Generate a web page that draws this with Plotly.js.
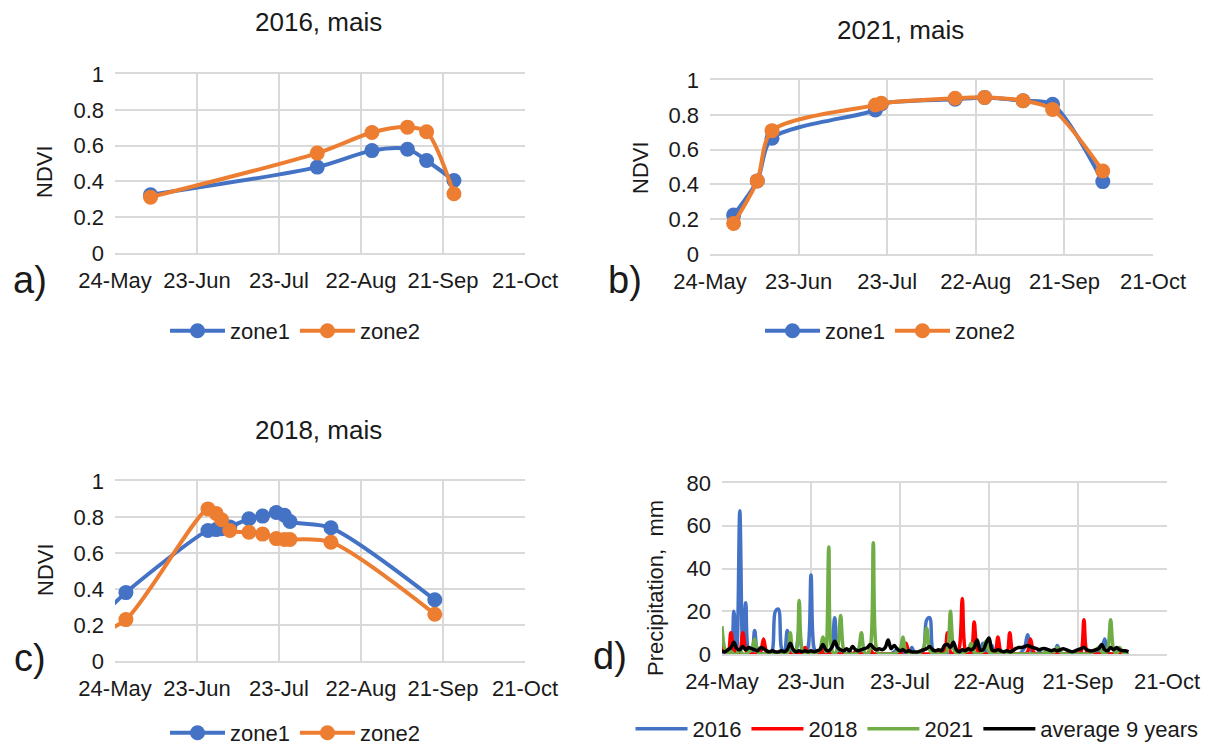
<!DOCTYPE html>
<html><head><meta charset="utf-8">
<script src="https://cdn.plot.ly/plotly-3.0.1.min.js"></script>
<style>html,body{margin:0;padding:0;background:#fff}#chart{width:1208px;height:746px}</style>
</head><body><div id="chart"></div>
<script>
// ---------- data ----------
const tickLabels = ["24-May","23-Jun","23-Jul","22-Aug","21-Sep","21-Oct"];
const tickMonthDays = ["05-24","06-23","07-23","08-22","09-21","10-21"];

// a) 2016
const dates2016 = ["2016-06-06","2016-08-06","2016-08-26","2016-09-08","2016-09-15","2016-09-25"];
const zone1_2016 = [0.325,0.48,0.572,0.58,0.517,0.405];
const zone2_2016 = [0.312,0.558,0.673,0.703,0.677,0.331];

// b) 2021
const dates2021 = ["2021-06-01","2021-06-09","2021-06-14","2021-07-19","2021-07-21","2021-08-15","2021-08-25","2021-09-07","2021-09-17","2021-10-04"];
const zone1_2021 = [0.224,0.42,0.665,0.828,0.862,0.889,0.90,0.881,0.86,0.416];
const zone2_2021 = [0.176,0.42,0.709,0.856,0.866,0.895,0.90,0.881,0.831,0.477];

// c) 2018
const dates2018 = ["2018-05-16","2018-05-28","2018-06-27","2018-06-30","2018-07-02","2018-07-05","2018-07-12","2018-07-17","2018-07-22","2018-07-25","2018-07-27","2018-08-11","2018-09-18"];
const zone1_2018 = [0.20,0.38,0.725,0.73,0.735,0.745,0.79,0.805,0.825,0.81,0.775,0.74,0.34];
const zone2_2018 = [0.14,0.23,0.845,0.82,0.785,0.725,0.715,0.705,0.68,0.675,0.675,0.66,0.26];

// d) daily precipitation, mm, from 24-May (138 days)
const precipStart = "2021-05-24";
const precip2016 = [
 0,0,0,1,20,3,67,3,24,1,
 0,11,1,0,0,0,0,2,20,21,
 3,0,11,1,0,2,11,2,0,3,
 37,3,0,0,0,1,0,3,17,2,
 0,0,0,1,0,0,0,0,0,0,
 0,0,0,0,0,0,0,0,1,2,
 1,0,0,0,3,0,0,0,2,16,
 17,2,0,0,0,1,0,0,0,0,
 0,0,0,1,0,0,0,2,5,1,
 0,4,0,0,0,0,1,0,0,0,
 0,1,3,9,2,0,0,1,0,0,
 0,0,0,4,1,0,0,0,0,0,
 0,0,0,0,0,0,0,1,2,7,
 1,0,0,1,0,0,0,0];
const precip2018 = [
 5,1,0,10,2,0,1,10,2,0,
 0,0,0,1,7,1,0,0,0,0,
 0,0,2,0,0,0,0,1,3,0,
 0,0,0,0,2,0,0,0,0,0,
 0,0,0,0,0,1,0,0,0,0,
 2,0,0,0,0,0,0,0,0,0,
 0,2,5,1,0,0,0,0,0,0,
 0,0,0,0,2,1,10,1,0,0,
 3,26,2,0,1,15,2,0,0,0,
 0,1,0,8,1,0,0,10,1,0,
 0,0,0,1,7,1,0,0,0,0,
 0,0,0,0,0,0,0,0,0,0,
 0,1,16,1,0,0,0,0,0,0,
 0,0,0,0,0,1,0,0];
const precip2021 = [
 13,2,0,1,0,0,2,0,0,1,
 2,7,1,0,0,0,0,0,0,0,
 0,1,0,10,1,2,25,2,0,0,
 0,0,1,2,8,1,50,2,0,3,
 18,2,0,0,0,0,2,10,1,0,
 3,52,3,0,0,0,0,0,0,1,
 2,8,1,0,0,0,0,1,3,12,
 2,0,0,0,0,0,2,20,3,0,
 0,0,1,2,5,1,0,0,2,6,
 1,0,0,0,0,0,0,0,0,0,
 0,0,0,0,0,0,0,0,0,1,
 0,1,1,3,1,0,0,0,0,0,
 0,0,0,0,0,1,2,3,1,0,
 2,16,2,0,3,1,0,0];
const precipAvg9 = [
 1.5,1,2,3,5.5,2.5,2,3.5,2,3,
 2.5,2,1.5,3,2.5,1.5,1,1.5,1,1,
 1.5,1,2,5,2,1,1.5,1,1.5,1,
 1.5,1,1.5,2,4.5,2,1.5,3,6,3,
 2,1.5,2.5,1.5,3.5,2,1.5,2,2.5,3,
 4.5,3,2,2.5,2,3,6.5,2.5,4,2.5,
 1.5,2,1,1.5,1,1,1,1.5,2,2.5,
 3.5,2,1.5,2,1.5,4,4.5,3,5.5,2,
 1,2,1.5,2.5,2,3,6.5,2,2,5,
 7.5,2,1.5,2,1.5,1,1.5,1,1.5,2.5,
 3,3,3.5,4,3.5,3,2.5,2,2.5,2.5,
 2,1.5,2,1.5,2,2.5,2,1.5,1,1.5,
 2,2.5,3,2,1.5,1.5,2,2.5,4.5,2,
 1.5,3,2,3,2,1.5,1.5,1];

// ---------- helpers ----------
const W = 1208, H = 746;
const px = x => x / W;
const py = y => 1 - y / H;
function dayDates(start, n) {
  const out = [];
  const t0 = Date.parse(start + "T00:00:00Z");
  for (let i = 0; i < n; i++) out.push(new Date(t0 + i * 86400000).toISOString().slice(0, 10));
  return out;
}
const precipDates = dayDates(precipStart, precip2016.length);
const ticksFor = yr => tickMonthDays.map(md => yr + "-" + md);

const C1 = "#4472C4", C2 = "#ED7D31";
const FONT = "Liberation Sans, Arial, sans-serif";
const TXT = "#1a1a1a";
const GRID = "#d9d9d9";

function ndviTraces(x, y1, y2, xa, ya, leg) {
  const mk = (y, name, c) => ({
    x: x, y: y, name: name, type: "scatter", mode: "lines+markers",
    xaxis: xa, yaxis: ya, legend: leg,
    line: {color: c, width: 4, shape: "spline", smoothing: 0.8},
    marker: {color: c, size: 15}
  });
  return [mk(y1, "zone1", C1), mk(y2, "zone2", C2)];
}
function precTrace(y, name, c) {
  return {x: precipDates, y: y, name: name, type: "scatter", mode: "lines",
    xaxis: "x4", yaxis: "y4", legend: "legend4",
    line: {color: c, width: 3.5, shape: "spline", smoothing: 1.0}};
}

const data = [
  ...ndviTraces(dates2016, zone1_2016, zone2_2016, "x", "y", "legend"),
  ...ndviTraces(dates2021, zone1_2021, zone2_2021, "x2", "y2", "legend2"),
  ...ndviTraces(dates2018, zone1_2018, zone2_2018, "x3", "y3", "legend3"),
  precTrace(precip2016, "2016", "#4472C4"),
  precTrace(precip2018, "2018", "#FF0000"),
  precTrace(precip2021, "2021", "#70AD47"),
  precTrace(precipAvg9, "average 9 years", "#000000")
];

function xAxis(yr, x0, x1, anchor) {
  const t = ticksFor(yr);
  return {
    type: "date", domain: [px(x0), px(x1)], anchor: anchor,
    range: [t[0], t[t.length - 1]],
    tickmode: "array", tickvals: t, ticktext: tickLabels,
    showgrid: true, gridcolor: GRID, gridwidth: 2,
    showline: true, linecolor: GRID, linewidth: 2, mirror: true,
    ticks: "", ticklabelstandoff: 7,
    tickfont: {size: 22, color: TXT, family: FONT},
    zeroline: false, fixedrange: true
  };
}
function yAxis(y0, y1, anchor, maxv, dt) {
  return {
    domain: [py(y1), py(y0)], anchor: anchor,
    range: [0, maxv], dtick: dt, tick0: 0,
    showgrid: true, gridcolor: GRID, gridwidth: 2,
    showline: false, zeroline: false,
    ticks: "", ticklabelstandoff: 10,
    tickfont: {size: 22, color: TXT, family: FONT}, fixedrange: true
  };
}
function legendAt(cx, cy, iw) {
  return {orientation: "h", x: px(cx), y: py(cy), xanchor: "center", yanchor: "middle",
    font: {size: 22, color: TXT, family: FONT}, itemwidth: iw, bgcolor: "rgba(0,0,0,0)",
    tracegroupgap: 0};
}
function ann(text, x, y, size, angle) {
  return {text: text, x: px(x), y: py(y), xref: "paper", yref: "paper",
    xanchor: "center", yanchor: "middle", showarrow: false,
    textangle: angle || 0, font: {size: size, color: TXT, family: FONT}};
}

const layout = {
  width: W, height: H,
  margin: {l: 0, r: 0, t: 0, b: 0, autoexpand: false},
  paper_bgcolor: "#fff", plot_bgcolor: "#fff",
  font: {family: FONT, color: TXT},
  showlegend: true,
  xaxis: xAxis(2016, 115, 525, "y"),
  yaxis: yAxis(74, 253, "x", 1, 0.2),
  xaxis2: xAxis(2021, 710, 1153, "y2"),
  yaxis2: yAxis(80, 254, "x2", 1, 0.2),
  xaxis3: xAxis(2018, 115, 525, "y3"),
  yaxis3: yAxis(481, 661, "x3", 1, 0.2),
  xaxis4: xAxis(2021, 722, 1167, "y4"),
  yaxis4: yAxis(483, 654, "x4", 80, 20),
  legend: legendAt(295, 331, 55),
  legend2: legendAt(890, 331, 55),
  legend3: legendAt(295, 733, 55),
  legend4: legendAt(917, 729, 52),
  annotations: [
    ann("2016, mais", 318, 22, 26),
    ann("2021, mais", 900, 30, 26),
    ann("2018, mais", 318, 430, 26),
    ann("a)", 30, 280, 38),
    ann("b)", 625, 280, 38),
    ann("c)", 30, 658, 38),
    ann("d)", 610, 656, 38),
    ann("NDVI", 45, 172, 22, -90),
    ann("NDVI", 640, 168, 22, -90),
    ann("NDVI", 45, 570, 22, -90),
    ann("Precipitation,\u00a0 mm", 655, 588, 22, -90)
  ]
};

Plotly.newPlot("chart", data, layout, {displayModeBar: false, staticPlot: true});
</script>
</body></html>
